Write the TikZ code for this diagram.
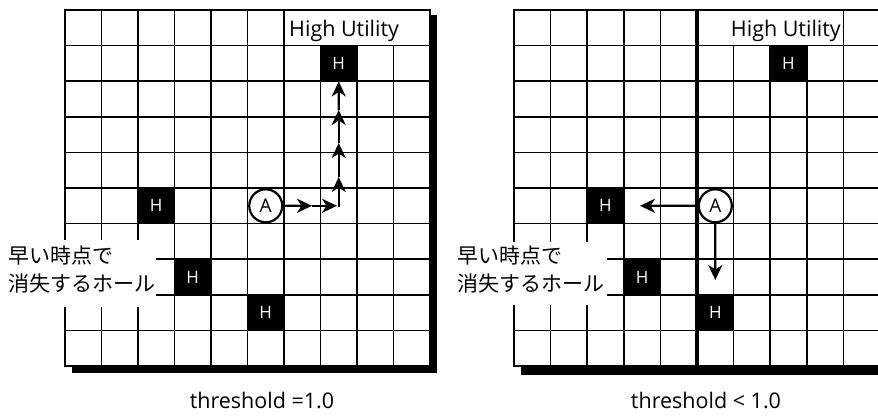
\documentclass[tikz,border=0pt]{standalone}
\usepackage{fontspec}
\setmainfont{Open Sans}
\newfontfamily\jpfont{Noto Sans CJK JP}
\usetikzlibrary{arrows.meta}
\begin{document}
\begin{tikzpicture}[x=1pt,y=-1pt,
  gl/.style={line width=1.7pt},
  thickgl/.style={line width=3.2pt},
  hcell/.style={fill=black,text=white,minimum width=36.5pt,minimum height=35.6pt,inner sep=0pt,font=\fontsize{17}{17}\selectfont},
  agent/.style={circle,draw,line width=2.2pt,fill=white,minimum size=33pt,inner sep=0pt,font=\fontsize{19}{19}\selectfont},
  arr/.style={line width=2.3pt,-{Stealth[length=15pt,width=14pt,inset=4.5pt]}},
  jp/.style={font=\jpfont\fontsize{21}{24}\selectfont,inner sep=0pt,anchor=west},
  lbl/.style={font=\fontsize{21.5}{24}\selectfont,inner sep=0pt},
  threshlbl/.style={font=\fontsize{21.5}{24}\selectfont,inner sep=0pt,anchor=base}]
\useasboundingbox (0,0) rectangle (878,415);
\fill[white] (0,0) rectangle (878,415);

% ---------- left grid ----------
\begin{scope}[shift={(65,10)},x=36.5pt,y=-35.6pt]
  \fill[black] (0.19,0.14) rectangle (10.2,10.2);
  \fill[white] (0,0) rectangle (10,10);
  \foreach \i in {1,...,6} \draw[gl] (\i,0) -- (\i,10);
  \foreach \i in {7,8,9} \draw[gl] (\i,1) -- (\i,10);
  \foreach \j in {1,...,9} \draw[gl] (0,\j) -- (10,\j);
  \draw[gl] (0,0) rectangle (10,10);
\end{scope}

% ---------- right grid ----------
\begin{scope}[shift={(514,10)},x=36.6pt,y=-35.6pt]
  \fill[black] (0.19,0.14) rectangle (10.3,10.25);
  \fill[white] (0,0) rectangle (10,10);
  \foreach \i in {1,...,4} \draw[gl] (\i,0) -- (\i,10);
  \foreach \i in {6,7,8} \draw[gl] (\i,1) -- (\i,10);
  \draw[gl] (9,0) -- (9,10);
  \foreach \j in {1,...,9} \draw[gl] (0,\j) -- (10,\j);
  \draw[gl] (0,0) rectangle (10,10);
  \draw[thickgl] (5,0) -- (5,10);
\end{scope}

% label backgrounds
\fill[white] (0,240) rectangle (156,307);
\fill[white] (440,242) rectangle (607,305);

% ---------- left content ----------
\begin{scope}[shift={(65,10)},x=36.5pt,y=-35.6pt]
  \node[hcell] (LH1) at (7.5,1.5) {H};
  \node[hcell] (LH2) at (2.5,5.5) {H};
  \node[hcell] (LH3) at (3.5,7.5) {H};
  \node[hcell] (LH4) at (5.5,8.5) {H};
  \node[agent] (LA) at (5.5,5.5) {A};
\end{scope}
\node[lbl,anchor=base west] (LHU) at (289,36) {High Utility};
\node[jp] (LJ1) at (8,256) {早い時点で};
\node[jp] (LJ2) at (8,284) {消失するホール};
\node[threshlbl] (LT) at (262,408) {threshold =1.0};

\coordinate (l1) at (312,205.8);
\coordinate (l2) at (337,205.8);
\coordinate (v0) at (338.7,207);
\coordinate (v1) at (338.7,177);
\coordinate (v2) at (338.7,143);
\coordinate (v3) at (338.7,110);
\draw[arr] (LA) -- (l1);
\draw[arr] (l1) -- (l2);
\draw[arr] (v0) -- (v1);
\draw[arr] (v1) -- (v2);
\draw[arr] (v2) -- (v3);
\draw[arr] (v3) -- (LH1.south);

% ---------- right content ----------
\begin{scope}[shift={(514,10)},x=36.6pt,y=-35.6pt]
  \node[hcell] (RH1) at (7.5,1.5) {H};
  \node[hcell] (RH2) at (2.5,5.5) {H};
  \node[hcell] (RH3) at (3.5,7.5) {H};
  \node[hcell] (RH4) at (5.5,8.5) {H};
  \node[agent] (RA) at (5.5,5.5) {A};
\end{scope}
\node[lbl,anchor=base east] (RHU) at (841,36) {High Utility};
\node[jp] (RJ1) at (457,256) {早い時点で};
\node[jp] (RJ2) at (457,284) {消失するホール};
\node[threshlbl] (RT) at (706,408) {threshold < 1.0};

\coordinate (r1) at (640,205.8);
\coordinate (r2) at (715.3,280);
\draw[arr] (RA) -- (r1);
\draw[arr] (RA) -- (r2);
\end{tikzpicture}
\end{document}
